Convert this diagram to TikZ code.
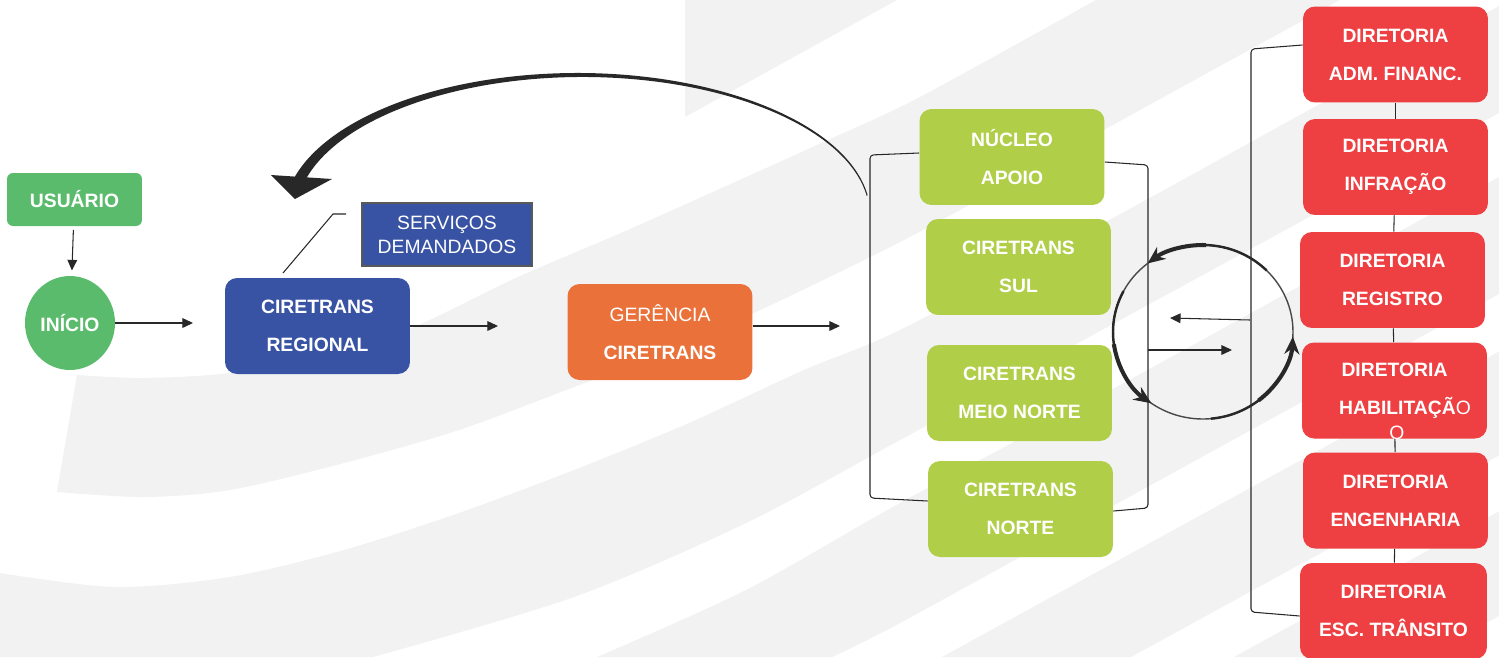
\documentclass[tikz,border=0pt]{standalone}
\usepackage{fontspec}
\setmainfont{Liberation Sans}
\usetikzlibrary{arrows.meta,shapes.geometric}
\definecolor{bggray}{RGB}{242,242,242}
\definecolor{grn}{RGB}{91,187,108}
\definecolor{blu}{RGB}{57,83,164}
\definecolor{org}{RGB}{234,114,58}
\definecolor{lime}{RGB}{176,206,72}
\definecolor{rd}{RGB}{238,64,66}
\definecolor{ink}{RGB}{40,40,40}
\newcommand\boxfont{\bfseries\fontsize{11}{21.5}\selectfont}
\newcommand\svcfont{\fontsize{11}{13.6}\selectfont}
\tikzset{
  box/.style={rectangle, rounded corners=0.24cm, minimum width=3.7cm, minimum height=1.92cm,
    text=white, align=center, font=\boxfont, inner sep=0pt},
  arr/.style={draw=ink, line width=0.6pt, -{Triangle[length=6pt,width=5.5pt]}},
  thinline/.style={draw=ink, line width=0.6pt},
  bracket/.style={draw=ink, line width=0.6pt, rounded corners=2pt},
  cyc/.style={draw=ink!85, line width=0.8pt},
  cycthick/.style={draw=ink, line width=2.3pt, -{Stealth[length=10pt,width=8.5pt]}},
  cycmed/.style={draw=ink, line width=1.4pt},
}
\begin{document}
\begin{tikzpicture}[x=0.02cm,y=-0.02cm]
\useasboundingbox (0,0) rectangle (1499,657);
% ---------- background stripes ----------
\begin{scope}
\clip (0,0) rectangle (1499,657);
\fill[white] (0,0) rectangle (1499,657);
\fill[bggray] (685,0) -- (897,0) -- (685,117) -- cycle;
\fill[bggray] (57,492) -- (77,375) -- plot[smooth] coordinates {(77,375) (144,378) (230,373) (330,355) (414,327) (518,277) (621,233) (724,187) (828,140) (920,97) (1096,0)}
  -- (1340,0) -- plot[smooth] coordinates {(1340,0) (1100,132) (900,242) (689,343) (574,387) (459,430) (344,463) (230,490) (144,497) (57,492)} -- cycle;
\fill[bggray] plot[smooth] coordinates {(0,573) (115,587) (230,577) (344,550) (459,513) (574,470) (689,423) (804,370) (900,330) (1100,225) (1300,115) (1510,0)}
  -- (1705,0) -- plot[smooth] coordinates {(1705,0) (1499,113) (1300,222) (1100,331) (900,440) (746,523) (574,597) (373,657)} -- (0,657) -- cycle;
\fill[bggray] plot[smooth] coordinates {(597,657) (746,590) (900,503) (1100,396) (1300,286) (1499,177) (1820,0)}
  -- (2035,0) -- plot[smooth] coordinates {(2035,0) (1499,294) (1300,403) (1100,513) (900,623) (832,657)} -- cycle;
\fill[bggray] (942,657) -- (2140,0) -- (2330,0) -- (1131,657) -- cycle;
\fill[bggray] (1234,657) -- (2430,0) -- (2620,0) -- (1424,657) -- cycle;
\end{scope}

% ---------- big return arrow (tapered) ----------
\coordinate (bigco) at (577.25,215);
\coordinate (bigci) at (582.75,215);
\fill[ink] ([shift={(-8:293.25 and 142)}]bigco) arc[start angle=-8, end angle=-166, x radius=293.25, y radius=142]
  -- ([shift={(-166:286.75 and 138)}]bigci) arc[start angle=-166, end angle=-8, x radius=286.75, y radius=138] -- cycle;
\fill[ink] (271,175) -- (295,199) -- (332,179) -- cycle;

% ---------- left part ----------
\node[box, fill=grn, minimum width=2.7cm, minimum height=1.06cm, rounded corners=0.12cm] (usuario) at (74.5,199.5) {USUÁRIO};
\node[ellipse, fill=grn, minimum width=1.8cm, minimum height=1.88cm, inner sep=0pt, text=white, font=\boxfont] (inicio) at (70,323) {INÍCIO};
\node[box, fill=blu] (regional) at (317.5,326) {CIRETRANS\\REGIONAL};
\node[rectangle, fill=blu, draw=black!65, line width=0.6pt, minimum width=3.4cm, minimum height=1.26cm, inner sep=0pt,
  text=white, align=center, font=\svcfont] (servicos) at (447,234.5) {SERVIÇOS\\DEMANDADOS};
\node[box, fill=org] (gerencia) at (660,332) {{\mdseries GERÊNCIA}\\CIRETRANS};

\coordinate (c1) at (193,323);
\coordinate (c2) at (498,326);
\coordinate (c3) at (840,326);
\coordinate (s1) at (346,214);
\coordinate (s2) at (333,214);
\coordinate (s3) at (283,273);

\draw[arr, shorten <=2pt, shorten >=3pt] (usuario) -- (inicio);
\draw[arr] (inicio) -- (c1);
\draw[arr] (regional) -- (c2);
\draw[arr] (gerencia.east |- c3) -- (c3);
\draw[thinline] (s1) -- (s2) -- (s3);

% ---------- green group ----------
\node[box, fill=lime] (nucleo) at (1012,157) {NÚCLEO\\APOIO};
\node[box, fill=lime] (sul) at (1018.5,267) {CIRETRANS\\SUL};
\node[box, fill=lime] (meio) at (1019.5,393) {CIRETRANS\\MEIO NORTE};
\node[box, fill=lime] (norte) at (1020.5,509) {CIRETRANS\\NORTE};

\draw[bracket] (nucleo.west |- 0,153) -- (870,155) -- (870,498) -- (norte.west |- 0,501);
\draw[bracket] (nucleo.east |- 0,162) -- (1148,165) -- (1148,508) -- (norte.east |- 0,511);

% ---------- red group ----------
\node[box, fill=rd] (adm) at (1395.5,54.5) {DIRETORIA\\ADM. FINANC.};
\node[box, fill=rd] (infr) at (1395.5,167) {DIRETORIA\\INFRAÇÃO};
\node[box, fill=rd] (reg) at (1392.5,280) {DIRETORIA\\REGISTRO};
\node[box, fill=rd] (hab) at (1394.5,390.5) {DIRETORIA\\\hspace*{12pt}HABILITAÇÃ{\mdseries O}};
\node[box, fill=rd] (eng) at (1395.5,500.5) {DIRETORIA\\ENGENHARIA};
\node[box, fill=rd, minimum width=3.74cm] (esc) at (1393.5,611) {DIRETORIA\\ESC. TRÂNSITO};
\node[text=white, font=\boxfont\mdseries, inner sep=0pt] (habo) at (1397,433) {O};

\draw[thinline] (adm) -- (infr);
\draw[thinline] (infr) -- (reg);
\draw[thinline] (reg) -- (hab);
\draw[thinline] (hab) -- (eng);
\draw[thinline] (eng) -- (esc);

\draw[bracket] (adm.west |- 0,45) -- (1251,49) -- (1251,612) -- (esc.west |- 0,616);

% ---------- exchange cycle ----------
\coordinate (cc) at (1203,332);
\draw[cyc] (cc) ellipse [x radius=90, y radius=87];
\draw[cycmed] ([shift={(315:90 and 87)}]cc) arc[start angle=315, end angle=268, x radius=90, y radius=87];
\draw[cycthick] ([shift={(272:90 and 87)}]cc) arc[start angle=272, end angle=232, x radius=90, y radius=87];
\draw[cycmed] ([shift={(208:90 and 87)}]cc) arc[start angle=208, end angle=168, x radius=90, y radius=87];
\draw[cycthick] ([shift={(172:90 and 87)}]cc) arc[start angle=172, end angle=125, x radius=90, y radius=87];
\draw[cycmed] ([shift={(85:90 and 87)}]cc) arc[start angle=85, end angle=48, x radius=90, y radius=87];
\draw[cycthick] ([shift={(52:90 and 87)}]cc) arc[start angle=52, end angle=3, x radius=90, y radius=87];

\coordinate (rb1) at (1250,320);
\coordinate (lb1) at (1170,318);
\coordinate (lb2) at (1148,350);
\coordinate (rb2) at (1232,350);
\draw[arr] (rb1) -- (lb1);
\draw[arr] (lb2) -- (rb2);
\end{tikzpicture}
\end{document}
